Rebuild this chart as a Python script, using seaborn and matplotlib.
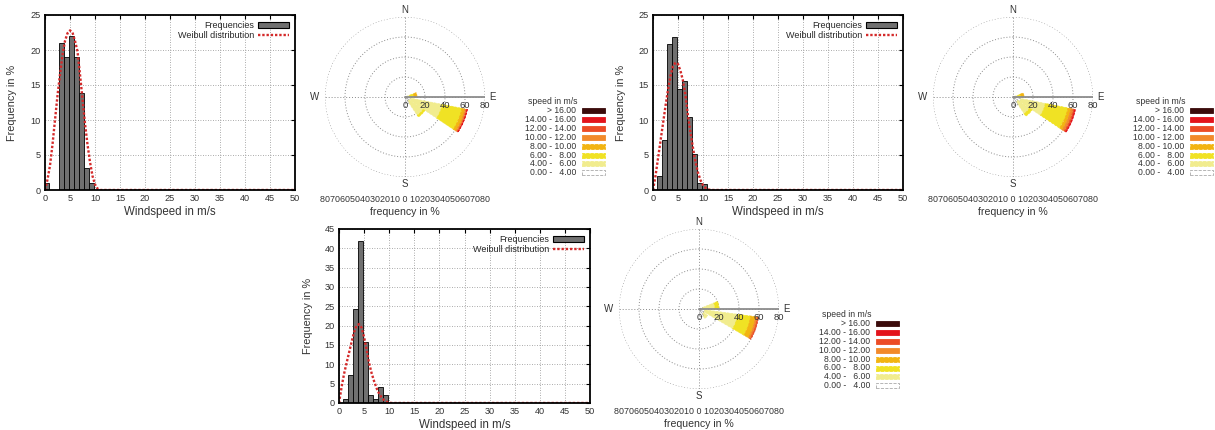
import numpy as np
import matplotlib
matplotlib.use("Agg")
import matplotlib.pyplot as plt
import seaborn as sns
from matplotlib.patches import Patch, Rectangle
from matplotlib.lines import Line2D
from matplotlib.transforms import offset_copy

# histogram bins (m/s) and frequencies in % for the three stations
bin_edges = [-0.2, 0.8, 1.8, 2.8, 3.8, 4.8, 5.8, 6.8, 7.8, 8.8, 9.8, 10.8]
bin_centers = [0.3, 1.3, 2.3, 3.3, 4.3, 5.3, 6.3, 7.3, 8.3, 9.3, 10.3]
freq_1 = [1.0, 0, 0, 21.0, 19.0, 22.0, 19.0, 13.8, 3.2, 1.0, 0]
freq_2 = [0, 2.0, 7.2, 20.8, 21.8, 14.5, 15.6, 10.4, 5.2, 1.0, 0.9]
freq_3 = [0, 1.0, 7.3, 24.2, 42.0, 15.8, 2.0, 1.0, 4.2, 2.0, 0]

# fitted weibull curves
weib_x = [0, 0.5, 1, 1.5, 2, 2.5, 3, 3.5, 4, 4.5, 5, 5.5, 6, 6.5, 7, 7.5,
          8, 8.5, 9, 9.5, 10, 10.5, 11, 11.5, 12, 50]
weib_1 = [0, 1.5, 3.5, 6.5, 10.0, 13.5, 16.5, 19.3, 21.3, 22.4, 22.8, 22.5, 21.3,
          19.8, 16.5, 13.0, 9.5, 6.5, 4.0, 2.0, 0.8, 0.2, 0, 0, 0, 0]
weib_2 = [0, 2.0, 4.5, 7.0, 9.5, 12.0, 14.3, 16.3, 17.7, 18.2, 18.0, 17.0, 15.6,
          13.5, 10.6, 8.2, 6.0, 4.0, 2.5, 1.4, 0.7, 0.3, 0.1, 0, 0, 0]
weib_3 = [0, 4.0, 7.5, 10.3, 13.0, 15.7, 18.3, 20.0, 20.4, 19.5, 17.0, 13.8, 10.3,
          7.7, 5.6, 3.8, 2.4, 1.4, 0.7, 0.3, 0.1, 0, 0, 0, 0, 0]

# wind rose: speed classes and stacked frequency (%) per direction
speed_labels = ["> 16.00", "14.00 - 16.00", "12.00 - 14.00", "10.00 - 12.00",
                "8.00 - 10.00", "6.00 -   8.00", "4.00 -   6.00", "0.00 -   4.00"]
speed_colors = ["#3b0b0b", "#e3141c", "#ec4c26", "#f28a2b", "#f2b412",
                "#f0e224", "#f1ec8e", "#ffffff"]
# classes from 0-4 upwards
rose1_dirs = [80, 112.5, 135, 157.5]
rose1 = [[2, 3, 4, 3, 0, 0, 0, 0],
         [6, 32, 20, 3, 1.5, 0.8, 0.3, 0],
         [5, 17, 2, 0, 0, 0, 0, 0],
         [7, 0, 0, 0, 0, 0, 0, 0]]
rose2_dirs = [80, 112.5, 135, 157.5]
rose2 = [[2, 3, 3, 3, 0, 0, 0, 0],
         [8, 25, 23, 3, 2.5, 1.5, 0.7, 0],
         [6, 14, 3, 0, 0, 0, 0, 0],
         [9, 0, 0, 0, 0, 0, 0, 0]]
rose3_dirs = [79, 109, 138, 157.5]
rose3 = [[4, 12, 4, 0, 0, 0, 0, 0],
         [6, 33, 13, 5, 2, 1, 0, 0],
         [6, 5, 0, 0, 0, 0, 0, 0],
         [8, 0, 0, 0, 0, 0, 0, 0]]
rose_ticks = [0, 20, 40, 60, 80]

W, H = 1215, 430
sns.set_style("white")
plt.rcParams["font.family"] = ["Liberation Sans", "DejaVu Sans"]

fig = plt.figure(figsize=(W / 100, H / 100), dpi=100)


def px_axes(x0, y0, x1, y1, **kw):
    return fig.add_axes([x0 / W, 1 - y1 / H, (x1 - x0) / W, (y1 - y0) / H], **kw)


def ftext(x, y, s, **kw):
    fig.text(x / W, 1 - y / H, s, **kw)


def hist_panel(box, freq, weib, ymax, ylab_x):
    ax = px_axes(*box)
    sns.histplot(x=bin_centers, weights=freq, bins=bin_edges, ax=ax,
                 color="#707070", edgecolor="black", linewidth=0.6, alpha=1)
    sns.lineplot(x=weib_x, y=weib, ax=ax, color="#d42a2a",
                 linestyle=(0, (1, 0.8)), linewidth=1.7)
    ax.set_xlim(0, 50)
    ax.set_ylim(0, ymax)
    ax.set_xticks(range(0, 51, 5))
    ax.set_yticks(range(0, ymax + 1, 5))
    ax.grid(True, linestyle=(0, (1, 2)), color="#8f8f8f", linewidth=0.6)
    ax.tick_params(direction="in", length=3, labelsize=6.6, pad=3,
                   top=True, right=True, colors="black", labelcolor="#333333")
    for sp in ax.spines.values():
        sp.set_linewidth(1.3)
        sp.set_color("black")
    ax.set_xlabel("")
    ax.set_ylabel("")
    x0, y0, x1, y1 = box
    ftext((x0 + x1) / 2, y1 + 22, "Windspeed in m/s", ha="center", va="center",
          fontsize=8.3, color="#333333")
    ftext(ylab_x, (y0 + y1) / 2, "Frequency in %", ha="center", va="center",
          rotation=90, fontsize=7.8, color="#333333")
    handles = [Patch(facecolor="#707070", edgecolor="black", linewidth=0.8),
               Line2D([], [], color="#d42a2a", linestyle=(0, (1, 0.8)), linewidth=1.7)]
    ax.legend(handles, ["Frequencies", "Weibull distribution"], loc="upper right",
              markerfirst=False, frameon=False, fontsize=6.5, handlelength=3.4,
              handleheight=0.7, labelspacing=0.15, borderaxespad=0.25,
              handletextpad=0.5)
    return ax


def rose_panel(cx, cy, dirs, data, lx, ly):
    R = 80
    ax = px_axes(cx - R, cy - R, cx + R, cy + R, projection="polar")
    ax.set_theta_zero_location("N")
    ax.set_theta_direction(-1)
    width = np.deg2rad(22.5)
    for d, vals in zip(dirs, data):
        bottom = 0
        for i, v in enumerate(vals):
            if v <= 0:
                continue
            col = speed_colors[7 - i]
            edge = "#9a9a9a" if i == 0 else col
            ax.bar(np.deg2rad(d), v, width=width, bottom=bottom, color=col,
                   edgecolor=edge, linewidth=0.5, linestyle="--", zorder=3)
            bottom += v
    ax.set_ylim(0, R)
    ax.set_yticks([20, 40, 60, 80])
    ax.set_yticklabels([])
    ax.set_xticks(np.deg2rad([0, 90, 180, 270]))
    ax.set_xticklabels([])
    ax.grid(True, linestyle=(0, (1, 2)), color="#8a8a8a", linewidth=0.7)
    ax.spines["polar"].set_visible(False)
    ax.patch.set_alpha(0)
    ax.plot([np.pi / 2, np.pi / 2], [0, R], color="#8c8c8c", linewidth=1.3, zorder=4)
    off = offset_copy(ax.transData, fig=fig, x=0, y=-9, units="dots")
    for t in rose_ticks:
        ax.text(np.pi / 2, t, str(t), transform=off, ha="center", va="center",
                fontsize=6.8, color="#333333", zorder=5)
    ftext(cx, cy - 87, "N", ha="center", va="center", fontsize=7, color="#333333")
    ftext(cx, cy + 87, "S", ha="center", va="center", fontsize=7, color="#333333")
    ftext(cx + 87, cy, "E", ha="center", va="center", fontsize=7, color="#333333")
    ftext(cx - 90, cy, "W", ha="center", va="center", fontsize=7, color="#333333")
    ftext(cx, cy + 103, "8070605040302010 0 1020304050607080", ha="center",
          va="center", fontsize=6.4, color="#333333")
    ftext(cx, cy + 115, "frequency in %", ha="center", va="center",
          fontsize=7.6, color="#333333")
    # speed legend
    ftext(lx, ly - 1.5, "speed in m/s", ha="left", va="center", fontsize=6.2,
          color="#333333")
    for i, (lab, col) in enumerate(zip(speed_labels, speed_colors)):
        y = ly + 7.5 + 8.9 * i
        ftext(lx + 48, y, lab, ha="right", va="center", fontsize=6.2,
              color="#333333")
        edge = "#aaaaaa" if col == "#ffffff" else col
        ls = "-" if i < 4 else "--"
        fig.add_artist(Rectangle(((lx + 54) / W, 1 - (y + 2.5) / H), 23 / W, 5 / H,
                                 transform=fig.transFigure, facecolor=col,
                                 edgecolor=edge, linewidth=0.6, linestyle=ls))


hist_panel((45, 15, 295, 190), freq_1, weib_1, 25, 12)
rose_panel(405, 97, rose1_dirs, rose1, 528, 103)
hist_panel((653, 15, 903, 190), freq_2, weib_2, 25, 621)
rose_panel(1013, 97, rose2_dirs, rose2, 1136, 103)
hist_panel((339, 229, 590, 403), freq_3, weib_3, 45, 308)
rose_panel(699, 309, rose3_dirs, rose3, 822, 316)

fig.savefig("out.png", dpi=100)
